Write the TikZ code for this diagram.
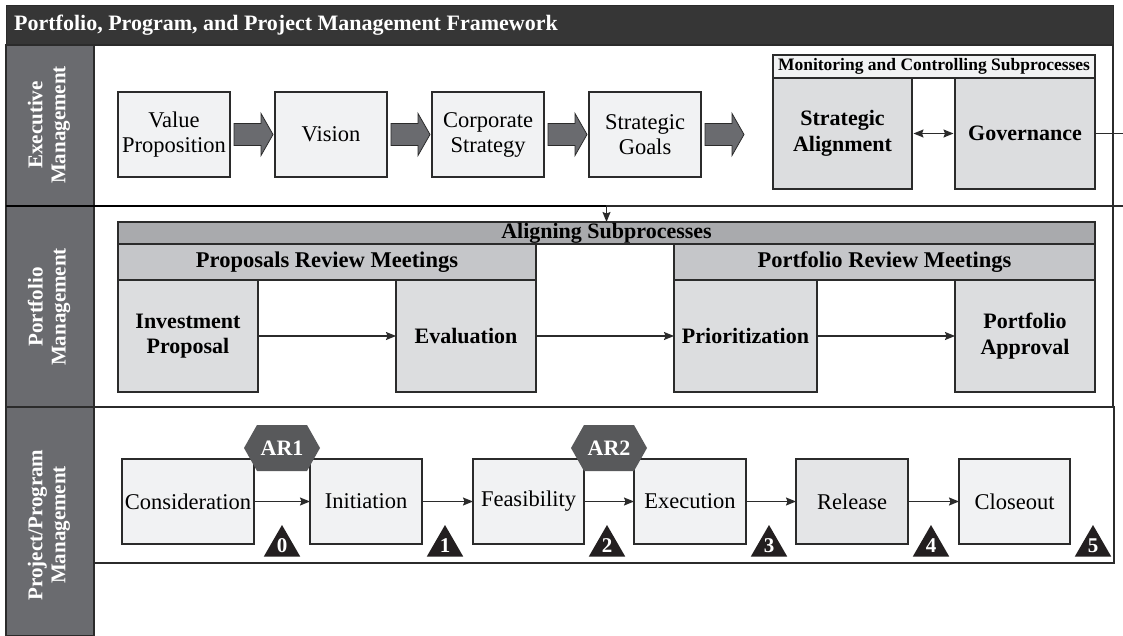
\documentclass[tikz,border=0pt]{standalone}
\usepackage{fontspec}
\setmainfont{Liberation Serif}
\usetikzlibrary{calc,arrows.meta,shapes.geometric}
\definecolor{titlec}{HTML}{363636}
\definecolor{bandc}{HTML}{6A6B6F}
\definecolor{linec}{HTML}{2B2B2B}
\definecolor{lightc}{HTML}{F1F2F3}
\definecolor{midc}{HTML}{DCDDDF}
\definecolor{hdrc}{HTML}{C5C6C9}
\definecolor{alignc}{HTML}{A9AAAD}
\definecolor{relc}{HTML}{E4E5E7}
\definecolor{arrowc}{HTML}{6A6B6F}
\definecolor{hexc}{HTML}{58595B}
\definecolor{blackc}{HTML}{231F20}
\tikzset{
 box/.style={draw=linec, line width=1.1pt, fill=lightc, anchor=north west, inner sep=0pt, outer sep=0pt, align=center, font=\fontsize{22.5}{25}\selectfont},
 bbox/.style={box, fill=midc, font=\fontsize{22}{25.5}\selectfont\bfseries},
 hdr/.style={box, fill=hdrc, font=\fontsize{22.5}{26}\selectfont\bfseries},
 conn/.style={draw=linec, line width=1.2pt, -{Stealth[length=10pt,width=8pt,inset=1.5pt]}},
 side/.style={rotate=90, text=white, font=\fontsize{21}{23}\selectfont\bfseries, align=center},
 tri/.style={regular polygon, regular polygon sides=3, minimum size=42pt, inner sep=0pt, fill=blackc, text=white, font=\fontsize{21}{22}\selectfont\bfseries},
 hextxt/.style={text=white, font=\fontsize{22}{24}\selectfont\bfseries, inner sep=0pt},
 hexfill/.style={fill=hexc},
 blk/.style={draw=linec, line width=0.8pt, fill=arrowc},
 section/.style={draw=linec, line width=1.1pt},
}
\newcommand\blockarrow[1]{%
  \path[blk] let \p1=(#1.east) in
   (\x1+4pt,\y1+11pt) -- (\x1+31pt,\y1+11pt) -- (\x1+31pt,\y1+21pt) -- (\x1+43pt,\y1)
   -- (\x1+31pt,\y1-21pt) -- (\x1+31pt,\y1-11pt) -- (\x1+4pt,\y1-11pt) -- cycle;}
\newcommand\hexagon[1]{%
  \fill[hexfill] ($(#1)+(-38,0)$) -- ($(#1)+(-25,-23)$) -- ($(#1)+(25,-23)$) -- ($(#1)+(38,0)$)
   -- ($(#1)+(25,23)$) -- ($(#1)+(-25,23)$) -- cycle;}
\begin{document}
\begin{tikzpicture}[x=1pt,y=-1pt]
\useasboundingbox (0,0) rectangle (1123,636);
\fill[white] (0,0) rectangle (1123,636);
% frame
\fill[titlec, draw=linec] (6,5) rectangle (1113,45);
\node[anchor=west, text=white, font=\fontsize{22}{24}\selectfont\bfseries, inner sep=0pt] (title) at (14,25) {Portfolio, Program, and Project Management Framework};
\fill[bandc, draw=linec, line width=1.1pt] (6,45) rectangle (94,636);
\draw[section] (94,45) rectangle (1113,206);
\draw[section] (94,206) rectangle (1113,407);
\draw[section] (94,407) rectangle (1114,563);
\draw[linec, line width=1.1pt] (6,407) -- (94,407);
\draw[black, line width=2pt] (6,206) -- (1113,206);
\node[side] (lexec) at (49,125) {Executive\\Management};
\node[side] (lport) at (49,307) {Portfolio\\Management};
\node[side] (lproj) at (49,525) {Project/Program\\Management};
% executive management
\node[box, minimum width=112pt, minimum height=85pt] (vp) at (118,92) {Value\\Proposition};
\node[box, minimum width=112pt, minimum height=85pt] (vis) at (275,92) {Vision};
\node[box, minimum width=112pt, minimum height=85pt] (corp) at (432,92) {Corporate\\Strategy};
\node[box, minimum width=112pt, minimum height=85pt] (sg) at (589,92) {Strategic\\Goals};
\node[box, minimum width=322pt, minimum height=23pt, font=\fontsize{17.5}{20}\selectfont\bfseries] (mon) at (773,55) {Monitoring and Controlling Subprocesses};
\node[bbox, minimum width=139pt, minimum height=111pt] (sa) at (773,78) {Strategic\\Alignment};
\node[bbox, minimum width=140pt, minimum height=111pt] (gov) at (955,78) {Governance};
\blockarrow{vp}
\blockarrow{vis}
\blockarrow{corp}
\blockarrow{sg}
\draw[conn, {Stealth[length=10pt,width=8pt,inset=1.5pt]}-{Stealth[length=10pt,width=8pt,inset=1.5pt]}, shorten <=1.5pt, shorten >=1.5pt] (sa) -- (gov);
% portfolio management
\node[box, fill=alignc, minimum width=977pt, minimum height=22pt, font=\fontsize{22}{24}\selectfont\bfseries] (align) at (118,222) {Aligning Subprocesses};
\node[hdr, minimum width=418pt, minimum height=36pt] (prm) at (118,244) {Proposals Review Meetings};
\node[hdr, minimum width=421pt, minimum height=36pt] (porm) at (674,244) {Portfolio Review Meetings};
\node[bbox, minimum width=140pt, minimum height=112pt] (ip) at (118,280) {Investment\\Proposal};
\node[bbox, minimum width=140pt, minimum height=112pt] (ev) at (396,280) {Evaluation};
\node[bbox, minimum width=143pt, minimum height=112pt] (pr) at (674,280) {Prioritization};
\node[bbox, minimum width=140pt, minimum height=112pt] (pa) at (955,280) {Portfolio\\Approval};
\draw[conn] (ip) -- (ev);
\draw[conn] (ev) -- (pr);
\draw[conn] (pr) -- (pa);
\coordinate (exit) at (1135,206);
\draw[conn] (gov.east) -- (gov.east -| exit) -- (exit) -| (align.north);
% project/program management
\node[box, minimum width=132pt, minimum height=85pt] (cons) at (122,459) {Consideration};
\node[box, minimum width=112pt, minimum height=85pt] (init) at (310,459) {Initiation};
\node[box, minimum width=111pt, minimum height=85pt] (feas) at (473,459) {Feasibility};
\node[box, minimum width=112pt, minimum height=85pt] (exe) at (634,459) {Execution};
\node[box, fill=relc, minimum width=112pt, minimum height=85pt] (rel) at (796,459) {Release};
\node[box, minimum width=111pt, minimum height=85pt] (close) at (959,459) {Closeout};
\draw[conn] (cons) -- (init);
\draw[conn] (init) -- (feas);
\draw[conn] (feas) -- (exe);
\draw[conn] (exe) -- (rel);
\draw[conn] (rel) -- (close);
\coordinate (h1) at ($(cons.north east)!0.5!(init.north west)+(0,-11)$);
\coordinate (h2) at ($(feas.north east)!0.5!(exe.north west)+(0,-11)$);
\hexagon{h1}
\hexagon{h2}
\node[hextxt] (ar1) at (h1) {AR1};
\node[hextxt] (ar2) at (h2) {AR2};
\node[tri] (t0) at ($(cons.south east)+(28,2)$) {0};
\node[tri] (t1) at ($(init.south east)+(23,2)$) {1};
\node[tri] (t2) at ($(feas.south east)+(23,2)$) {2};
\node[tri] (t3) at ($(exe.south east)+(23,2)$) {3};
\node[tri] (t4) at ($(rel.south east)+(23,2)$) {4};
\node[tri] (t5) at ($(close.south east)+(23,2)$) {5};
\end{tikzpicture}
\end{document}
